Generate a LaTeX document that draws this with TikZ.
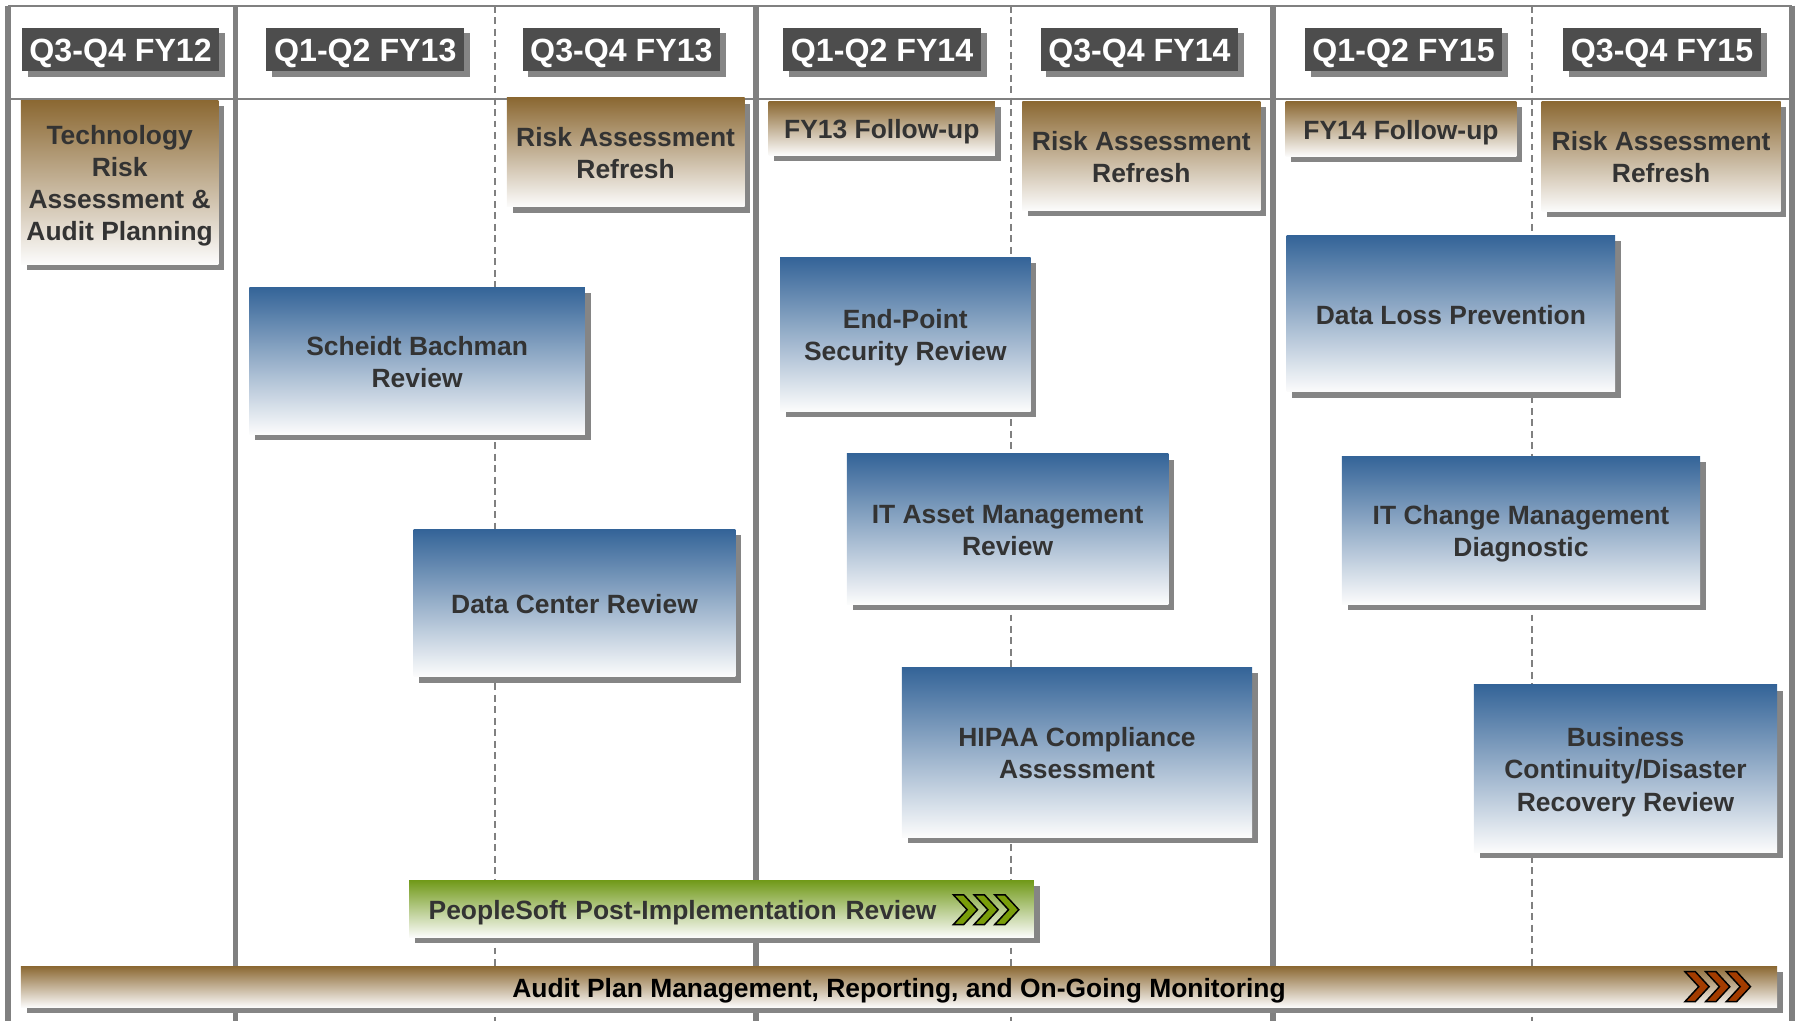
\documentclass[tikz,border=0pt]{standalone}
\usepackage{fontspec}
\setmainfont{Liberation Sans}
\usetikzlibrary{shadows}

\definecolor{hdrgray}{RGB}{77,77,77}
\definecolor{shadowgray}{RGB}{133,133,133}
\definecolor{linegray}{RGB}{128,128,128}
\definecolor{brownT}{RGB}{139,104,50}
\definecolor{blueT}{RGB}{52,100,152}
\definecolor{greenT}{RGB}{112,153,24}
\definecolor{txtgray}{RGB}{51,51,51}
\definecolor{chevgreen}{RGB}{122,158,10}
\definecolor{chevbrown}{RGB}{163,60,0}
\definecolor{boxwhite}{RGB}{252,252,252}

\tikzset{
  shadowed/.style={general shadow={fill=shadowgray, shadow xshift=5pt, shadow yshift=-5pt}},
  header/.style={shadowed, fill=hdrgray, text=white, font=\fontsize{28}{32}\selectfont\bfseries,
    minimum width=172pt, minimum height=38pt, inner sep=0pt, text height=26.5pt},
  boxtext/.style={font=\fontsize{23}{28}\selectfont\bfseries, text=txtgray, align=center,
    anchor=north west, inner sep=0pt, text height=23pt, text depth=5pt},
  twolines/.style={text height=51pt},
  threelines/.style={text height=79pt},
  fourlines/.style={text height=107pt},
  brownbox/.style={boxtext, shadowed, top color=brownT, bottom color=boxwhite},
  bluebox/.style={boxtext, shadowed, top color=blueT, bottom color=boxwhite},
  greenbox/.style={boxtext, shadowed, top color=greenT, bottom color=boxwhite},
  solidline/.style={linegray, line width=5pt},
  dashline/.style={linegray, line width=1.5pt, dash pattern=on 6pt off 4pt},
  thinline/.style={linegray, line width=1.5pt},
  chevron/.style={draw=black, line width=1.3pt, line join=miter},
}

\begin{document}
\begin{tikzpicture}[x=1pt,y=-1pt]
    \useasboundingbox (0,0) rectangle (1568,889);
    % grid
    \draw[thinline] (7,5) -- (1560,5);
    \draw[thinline] (7,86) -- (1560,86);
    \foreach \x in {431,880,1334}
        \draw[dashline] (\x,5) -- (\x,889);
    \foreach \x in {7,205,658,1108,1560}
        \draw[solidline] (\x,5) -- (\x,889);

    % half-year headers
    \node[header] (h1) at (105,43) {Q3-Q4 FY12};
    \node[header] (h2) at (318,43) {Q1-Q2 FY13};
    \node[header] (h3) at (541,43) {Q3-Q4 FY13};
    \node[header] (h4) at (768,43) {Q1-Q2 FY14};
    \node[header] (h5) at (992,43) {Q3-Q4 FY14};
    \node[header] (h6) at (1222,43) {Q1-Q2 FY15};
    \node[header] (h7) at (1447,43) {Q3-Q4 FY15};

    % planning and follow-up
    \node[brownbox, fourlines, minimum width=172pt, minimum height=143pt] (techrisk) at (18,87) {Technology\\Risk\\Assessment \&\\Audit Planning};
    \node[brownbox, twolines, minimum width=207pt, minimum height=95pt] (riskfy13) at (441,85) {Risk Assessment\\Refresh};
    \node[brownbox, minimum width=197pt, minimum height=47pt] (followfy13) at (669,88) {FY13 Follow-up};
    \node[brownbox, twolines, minimum width=207pt, minimum height=95pt] (riskfy14) at (890,88) {Risk Assessment\\Refresh};
    \node[brownbox, minimum width=201pt, minimum height=48pt] (followfy14) at (1119,88) {FY14 Follow-up};
    \node[brownbox, twolines, minimum width=208pt, minimum height=96pt] (riskfy15) at (1342,88) {Risk Assessment\\Refresh};

    % audits
    \node[bluebox, twolines, minimum width=292pt, minimum height=128pt] (scheidt) at (217,250) {Scheidt Bachman\\Review};
    \node[bluebox, twolines, minimum width=218pt, minimum height=134pt] (endpoint) at (679,224) {End-Point\\Security Review};
    \node[bluebox, minimum width=286pt, minimum height=136pt] (dlp) at (1120,205) {Data Loss Prevention};
    \node[bluebox, minimum width=280pt, minimum height=128pt] (datacenter) at (360,461) {Data Center Review};
    \node[bluebox, twolines, minimum width=280pt, minimum height=131pt] (itasset) at (737,395) {IT Asset Management\\Review};
    \node[bluebox, twolines, minimum width=312pt, minimum height=129pt] (itchange) at (1168,397) {IT Change Management\\Diagnostic};
    \node[bluebox, twolines, minimum width=305pt, minimum height=148pt] (hipaa) at (785,581) {HIPAA Compliance\\Assessment};
    \node[bluebox, threelines, minimum width=264pt, minimum height=146pt] (bcdr) at (1283,596) {Business\\Continuity/Disaster\\Recovery Review};

    % ongoing work
    \node[greenbox, text width=510pt, inner xsep=17pt, minimum height=50pt, align=left] (peoplesoft) at (356,766) {PeopleSoft Post-Implementation Review};
    \node[brownbox, text=black, minimum width=1529pt, minimum height=36pt] (monitoring) at (18,841) {Audit Plan Management, Reporting, and On-Going Monitoring};

    \foreach \i in {0,1,2}
        \draw[chevron, fill=chevgreen] (830+\i*18,779) -- ++(9,0) -- ++(12,13) -- ++(-12,13) -- ++(-9,0) -- ++(12,-13) -- cycle;
    \foreach \i in {0,1,2}
        \draw[chevron, fill=chevbrown] (1467+\i*18,846) -- ++(9,0) -- ++(12,13) -- ++(-12,13) -- ++(-9,0) -- ++(12,-13) -- cycle;
\end{tikzpicture}
\end{document}
